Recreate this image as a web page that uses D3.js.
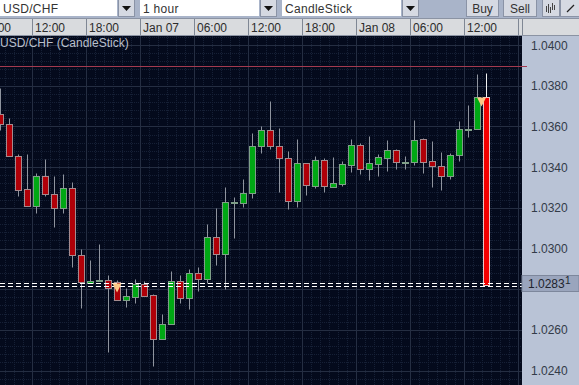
<!DOCTYPE html>
<html>
<head>
<meta charset="utf-8">
<script src="https://d3js.org/d3.v7.min.js"></script>
<style>
  html, body { margin: 0; padding: 0; background: #a9b4c9; overflow: hidden; }
  text { font-family: "Liberation Sans", Arial, sans-serif; font-size: 12px; }
</style>
</head>
<body>
<svg id="chart" width="579" height="385"></svg>
<script>
const opens = [1.03661,1.03612,1.03455,1.03293,1.03209,1.03357,1.03268,1.032,1.03298,1.02969,1.02831,1.02841,1.02846,1.02836,1.02748,1.02763,1.02827,1.02772,1.02556,1.0263,1.02841,1.02758,1.0288,1.02851,1.03057,1.02974,1.03224,1.03224,1.03273,1.03504,1.03582,1.03504,1.03445,1.03234,1.0342,1.03308,1.03435,1.03303,1.03317,1.0341,1.03509,1.03391,1.03415,1.03445,1.03484,1.0342,1.03425,1.03538,1.0343,1.03406,1.03357,1.03459,1.03582,1.03587,1.03745];
const highs = [1.03789,1.03641,1.03464,1.03464,1.03371,1.0344,1.03357,1.03367,1.03327,1.02998,1.02944,1.03023,1.02871,1.02846,1.02807,1.02851,1.02841,1.02777,1.02679,1.0289,1.02871,1.029,1.0291,1.03121,1.032,1.03303,1.03254,1.03342,1.03568,1.03602,1.03725,1.03592,1.03479,1.03538,1.0342,1.03455,1.03445,1.0345,1.0343,1.03538,1.03518,1.03553,1.03464,1.03533,1.03489,1.03455,1.03631,1.03543,1.03528,1.03474,1.03469,1.03627,1.03705,1.03858,1.03863];
const lows = [1.03582,1.03455,1.03259,1.03209,1.03175,1.03259,1.03106,1.03175,1.0291,1.02709,1.02831,1.02841,1.02493,1.02748,1.02714,1.02733,1.02768,1.02424,1.02556,1.0263,1.02733,1.02704,1.02792,1.02831,1.0292,1.02802,1.03052,1.03205,1.03249,1.03469,1.03489,1.03278,1.03195,1.03205,1.03263,1.03298,1.03278,1.03303,1.03308,1.03376,1.03367,1.03337,1.03357,1.03381,1.03391,1.03391,1.0341,1.03371,1.03303,1.03288,1.03342,1.0343,1.03548,1.03587,1.02822];
const closes = [1.03612,1.03455,1.03288,1.03209,1.03357,1.03268,1.032,1.03298,1.02969,1.02836,1.02841,1.02846,1.02807,1.02748,1.02768,1.02827,1.02768,1.02556,1.0263,1.02841,1.02758,1.0288,1.02851,1.03057,1.02974,1.03229,1.03229,1.03273,1.03504,1.03582,1.03504,1.03445,1.03234,1.0342,1.03313,1.03435,1.03308,1.03322,1.03415,1.03509,1.03391,1.0342,1.0345,1.03484,1.03425,1.03425,1.03533,1.03425,1.03406,1.03357,1.03459,1.03587,1.03587,1.03745,1.02822];

const timeLabels = ["06:00","12:00","18:00","Jan 07","06:00","12:00","18:00","Jan 08","06:00","12:00"];
const timeTickBars = [-2.5,3.5,9.5,15.5,21.5,27.5,33.5,39.5,45.5,51.5,57.5];
const priceTicks = [1.04,1.038,1.036,1.034,1.032,1.03,1.028,1.026,1.024];
const minorPriceTicks = d3.range(0, 46).map(i => 1.0416 - i * 0.0004);
const resistance = 1.03895;
const bidAsk = [1.02831, 1.02817];
const lastPrice = "1.0283";
const lastPipette = "1";
const arrowBars = [[12.95, 1.02831], [53.45, 1.03745]];
const toolbarFields = [
    { label: "USD/CHF", x: 0, w: 117 },
    { label: "1 hour", x: 140, w: 119 },
    { label: "CandleStick", x: 282, w: 119 }
];
const toolbarButtons = [{ label: "Buy", x: 466, w: 33 }, { label: "Sell", x: 503, w: 34 }];

const plotW = 522, plotTop = 36, height = 385, width = 579;
const bars = opens.map((o, i) => ({ i, o, h: highs[i], l: lows[i], c: closes[i] }));

const x = d3.scaleLinear().domain([0, 1]).range([0.5, 9.5]);
const yScale = d3.scaleLinear().domain([1.04, 1.024]).range([45, 370.6]);
const y = p => Math.round(yScale(p)) + 0.5;

const svg = d3.select("#chart");
svg.append("defs").append("clipPath").attr("id", "plot-clip")
    .append("rect").attr("x", 0).attr("y", plotTop).attr("width", plotW).attr("height", height - plotTop);
svg.append("defs").append("clipPath").attr("id", "time-clip")
    .append("rect").attr("x", 0).attr("y", 19).attr("width", plotW).attr("height", 17);

// Toolbar
const fields = svg.append("g").selectAll("g").data(toolbarFields).join("g");
fields.append("rect").attr("x", d => d.x).attr("y", 0).attr("width", d => d.w).attr("height", 16).attr("fill", "#fff");
fields.append("text").attr("x", d => d.x + 3).attr("y", 12.5).attr("fill", "#333").style("letter-spacing", "0.3px").text(d => d.label);
fields.append("rect").attr("x", d => d.x + d.w + 1.5).attr("y", -1).attr("width", 16).attr("height", 17.5).attr("fill", "#d5d9e2").attr("stroke", "#8a93a6");
fields.append("path")
    .attr("d", d => `M${d.x + d.w + 5},6 h9 l-4.5,5 z`)
    .attr("fill", "#111");

const buttons = svg.append("g").selectAll("g").data(toolbarButtons).join("g");
buttons.append("rect").attr("x", d => d.x + 0.5).attr("y", -1).attr("width", d => d.w - 1).attr("height", 17.5).attr("fill", "#d5d9e2").attr("stroke", "#8a93a6");
buttons.append("text").attr("x", d => d.x + d.w / 2).attr("y", 12.5).attr("text-anchor", "middle").attr("fill", "#333").text(d => d.label);

// Small icon buttons at the end of the toolbar
svg.append("rect").attr("x", 542.5).attr("y", -1).attr("width", 17).attr("height", 17.5).attr("fill", "#d5d9e2").attr("stroke", "#8a93a6");
svg.append("rect").attr("x", 560.5).attr("y", -1).attr("width", 19).attr("height", 17.5).attr("fill", "#d5d9e2").attr("stroke", "#8a93a6");
svg.append("path").attr("d", "M546.5,6v6M548.5,4v9M550.5,7v6M552.5,3v7M554.5,5v5").attr("stroke", "#444").attr("fill", "none");
svg.append("path").attr("d", "M567,12L574,5").attr("stroke", "#222").attr("stroke-width", 1.3).attr("fill", "none");

// Time axis strip
svg.append("rect").attr("x", 0).attr("y", 19).attr("width", width).attr("height", 17).attr("fill", "#d9dbde");
const timeAxis = svg.append("g").attr("clip-path", "url(#time-clip)");
timeAxis.selectAll("line").data(timeTickBars).join("line")
    .attr("x1", d => Math.round(x(d)) + 0.5).attr("x2", d => Math.round(x(d)) + 0.5)
    .attr("y1", 19).attr("y2", 36).attr("stroke", "#7f8794");
timeAxis.selectAll("text").data(timeLabels).join("text")
    .attr("x", (d, i) => x(timeTickBars[i]) + 3)
    .attr("y", 32)
    .attr("fill", "#2c2c2c")
    .text(d => d);

// Price axis panel
svg.append("rect").attr("x", plotW).attr("y", plotTop).attr("width", width - plotW).attr("height", height - plotTop).attr("fill", "#b9c3d6");
svg.append("line").attr("x1", plotW + 0.5).attr("x2", plotW + 0.5).attr("y1", 19).attr("y2", 36).attr("stroke", "#7f8794");
svg.append("line").attr("x1", 0).attr("x2", width).attr("y1", 35.5).attr("y2", 35.5).attr("stroke", "#8b93a3");
svg.append("line").attr("x1", 0).attr("x2", width).attr("y1", 18.5).attr("y2", 18.5).attr("stroke", "#8b93a3");

// Plot area
const plot = svg.append("g").attr("clip-path", "url(#plot-clip)");
plot.append("rect").attr("x", 0).attr("y", plotTop).attr("width", plotW).attr("height", height - plotTop).attr("fill", "#040a1c");

plot.append("g").selectAll("line").data(minorPriceTicks).join("line")
    .attr("x1", 0).attr("x2", plotW).attr("y1", d => y(d)).attr("y2", d => y(d))
    .attr("stroke", "#162036").attr("stroke-dasharray", "1,1");
plot.append("g").selectAll("line").data(d3.range(0, 59)).join("line")
    .attr("x1", d => Math.round(x(d - 0.5)) + 0.5).attr("x2", d => Math.round(x(d - 0.5)) + 0.5)
    .attr("y1", plotTop).attr("y2", height)
    .attr("stroke", "#162036").attr("stroke-dasharray", "1,1");
plot.append("g").selectAll("line").data(priceTicks).join("line")
    .attr("x1", 0).attr("x2", plotW).attr("y1", d => y(d)).attr("y2", d => y(d))
    .attr("stroke", "#252e42");
plot.append("g").selectAll("line").data(timeTickBars).join("line")
    .attr("x1", d => Math.round(x(d)) + 0.5).attr("x2", d => Math.round(x(d)) + 0.5)
    .attr("y1", plotTop).attr("y2", height)
    .attr("stroke", "#252e42");

plot.append("text").attr("x", 0).attr("y", 47).attr("fill", "#b9bfcb").text("USD/CHF (CandleStick)");

// Candles
const isLast = d => d.i === bars.length - 1;
plot.append("g").selectAll("line").data(bars).join("line")
    .attr("x1", d => x(d.i)).attr("x2", d => x(d.i))
    .attr("y1", d => y(d.h)).attr("y2", d => y(d.l))
    .attr("stroke", d => isLast(d) ? "#f2f2f2" : "#8f949e");
plot.append("g").selectAll("rect").data(bars).join("rect")
    .attr("x", d => x(d.i) - 3)
    .attr("width", 6)
    .attr("y", d => y(Math.max(d.o, d.c)))
    .attr("height", d => Math.max(y(Math.min(d.o, d.c)) - y(Math.max(d.o, d.c)), 1))
    .attr("fill", d => isLast(d) ? "#f20000" : (d.c >= d.o ? "#00a814" : "#b00008"))
    .attr("stroke", d => isLast(d) ? "#e8c8c8" : (d.c >= d.o ? "#7f9f88" : "#a58a8e"));

// Lines across the plot
svg.append("line")
    .attr("x1", 0).attr("x2", plotW + 5).attr("y1", y(resistance)).attr("y2", y(resistance))
    .attr("stroke", "#a33a50");
plot.append("g").selectAll("line").data(bidAsk).join("line")
    .attr("x1", 0).attr("x2", plotW).attr("y1", d => y(d)).attr("y2", d => y(d))
    .attr("stroke", "#fff").attr("stroke-dasharray", "5,3");

// Arrow markers
plot.append("g").selectAll("path").data(arrowBars).join("path")
    .attr("d", d => {
        const mx = x(d[0]), my = y(d[1]);
        return d3.line()([[mx - 4.5, my], [mx + 4.5, my], [mx, my + 9]]) + "Z";
    })
    .attr("fill", "#fcc886");

// Price labels
svg.append("g").selectAll("text").data(priceTicks.filter(p => p !== 1.028)).join("text")
    .attr("x", plotW + 9).attr("y", d => yScale(d) + 4.5)
    .attr("fill", "#333b48")
    .text(d => d.toFixed(4));

const lastBox = svg.append("g");
lastBox.append("rect").attr("x", plotW).attr("y", 275.5).attr("width", width - plotW).attr("height", 16).attr("fill", "#9aa5bd").attr("stroke", "#7d879c");
lastBox.append("text").attr("x", plotW + 6).attr("y", 288).attr("fill", "#20242e").text(lastPrice);
lastBox.append("text").attr("x", plotW + 43).attr("y", 284).attr("fill", "#20242e").style("font-size", "10px").text(lastPipette);
</script>
</body>
</html>
